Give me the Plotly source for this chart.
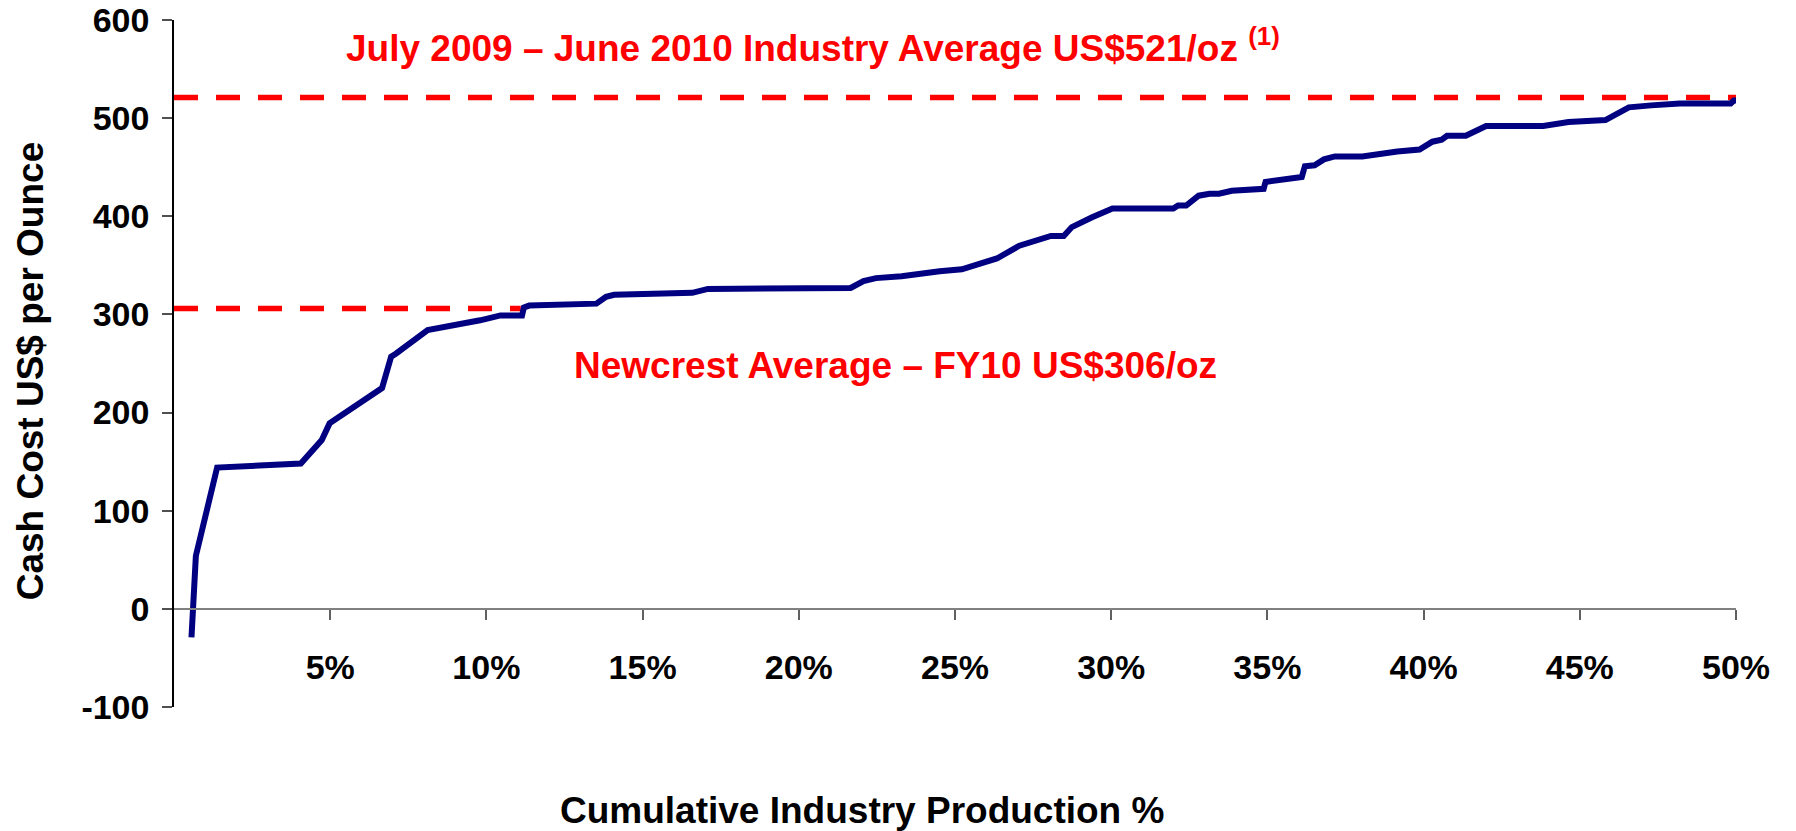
import plotly.graph_objects as go

# ---- data ----
cum_production_pct = [0.56, 0.70, 1.38, 4.06, 4.73, 4.98, 6.66, 6.95, 7.10, 8.12, 9.80, 10.45,
                      11.14, 11.20, 11.37, 13.52, 13.83, 14.09, 16.59, 17.09, 21.66, 22.07, 22.47,
                      23.29, 24.51, 25.22, 25.83, 26.34, 27.06, 28.07, 28.48, 28.74, 29.39, 30.04,
                      31.99, 32.14, 32.40, 32.80, 33.15, 33.45, 33.86, 34.88, 34.94, 36.10, 36.20,
                      36.51, 36.81, 37.16, 38.04, 38.45, 38.75, 39.16, 39.87, 40.28, 40.58, 40.75,
                      41.35, 42.00, 43.83, 44.34, 44.64, 45.82, 46.57, 47.28, 48.20, 49.83, 49.93,
                      50.30]
cash_cost = [-29, 54, 144, 148, 172, 189, 225, 257, 260, 284, 294, 299,
             299, 307, 309, 311, 318, 320, 322, 326, 327, 334, 337,
             339, 344, 346, 352, 357, 370, 380, 380, 389, 399, 408,
             408, 411, 411, 421, 423, 423, 426, 428, 435, 440, 451,
             452, 458, 461, 461, 463, 463, 466, 468, 476, 478, 482,
             482, 492, 492, 494, 496, 498, 511, 513, 515, 515, 518,
             518]

industry_avg = 521
industry_avg_span = [0, 50]
newcrest_avg = 306
newcrest_avg_span = [0, 11.1]

x_tick_vals = [5, 10, 15, 20, 25, 30, 35, 40, 45, 50]
x_tick_text = ["5%", "10%", "15%", "20%", "25%", "30%", "35%", "40%", "45%", "50%"]
y_tick_vals = [-100, 0, 100, 200, 300, 400, 500, 600]
y_tick_text = ["-100", "0", "100", "200", "300", "400", "500", "600"]

title_text = "July 2009 \u2013 June 2010 Industry Average US$521/oz <sup>(1)</sup>"
newcrest_text = "Newcrest Average \u2013 FY10 US$306/oz"
x_title = "Cumulative Industry Production %"
y_title = "Cash Cost US$ per Ounce"

FONT = "Liberation Sans, Arial, sans-serif"
RED = "#FF0000"
NAVY = "#000080"

fig = go.Figure()

fig.add_trace(go.Scatter(
    x=industry_avg_span, y=[industry_avg] * len(industry_avg_span), mode="lines",
    line=dict(color=RED, width=5.5, dash="24px,18px"), hoverinfo="skip", showlegend=False))
fig.add_trace(go.Scatter(
    x=newcrest_avg_span, y=[newcrest_avg] * len(newcrest_avg_span), mode="lines",
    line=dict(color=RED, width=5.5, dash="24px,18px"), hoverinfo="skip", showlegend=False))
fig.add_trace(go.Scatter(
    x=cum_production_pct, y=cash_cost, mode="lines",
    line=dict(color=NAVY, width=6), showlegend=False))

# the page body has an 8px default margin, so the figure is sized to fit inside the window
fig.update_layout(
    width=1788, height=823,
    margin=dict(l=166, r=60, t=12, b=124, pad=0),
    paper_bgcolor="white", plot_bgcolor="white",
    showlegend=False,
    font=dict(family=FONT, color="black"),
    xaxis=dict(
        range=[0, 50], anchor="free", position=1/7,
        showgrid=False, zeroline=False,
        showline=True, linecolor="#808080", linewidth=2,
        ticks="outside", ticklen=10, tickwidth=1.5, tickcolor="#606060",
        tickvals=x_tick_vals, ticktext=x_tick_text,
        tickfont=dict(family=FONT, size=34, weight="bold", color="black"),
        ticklabelstandoff=18, ticklabeloverflow="allow", automargin=False,
    ),
    yaxis=dict(
        range=[-100, 600], domain=[0, 1],
        showgrid=False, zeroline=False,
        showline=True, linecolor="black", linewidth=1.5,
        ticks="outside", ticklen=10, tickwidth=1.5, tickcolor="#505050",
        tickvals=y_tick_vals, ticktext=y_tick_text,
        tickfont=dict(family=FONT, size=34, weight="bold", color="black"),
        ticklabelstandoff=6, ticklabeloverflow="allow", automargin=False,
    ),
)

fig.add_annotation(
    x=5.44, y=574.5, xref="x", yref="y", text=title_text, showarrow=False,
    xanchor="left", yanchor="middle",
    font=dict(family=FONT, size=37, weight="bold", color=RED))
fig.add_annotation(
    x=12.74, y=248.2, xref="x", yref="y", text=newcrest_text, showarrow=False,
    xanchor="left", yanchor="middle",
    font=dict(family=FONT, size=37, weight="bold", color=RED))
fig.add_annotation(
    x=0.2458, y=-0.15, xref="paper", yref="paper", text=x_title, showarrow=False,
    xanchor="left", yanchor="middle",
    font=dict(family=FONT, size=37, weight="bold", color="black"))
fig.add_annotation(
    x=-0.0919, y=0.4893, xref="paper", yref="paper", text=y_title, showarrow=False,
    textangle=-90, xanchor="center", yanchor="middle",
    font=dict(family=FONT, size=37, weight="bold", color="black"))

fig.write_html("out.html")
